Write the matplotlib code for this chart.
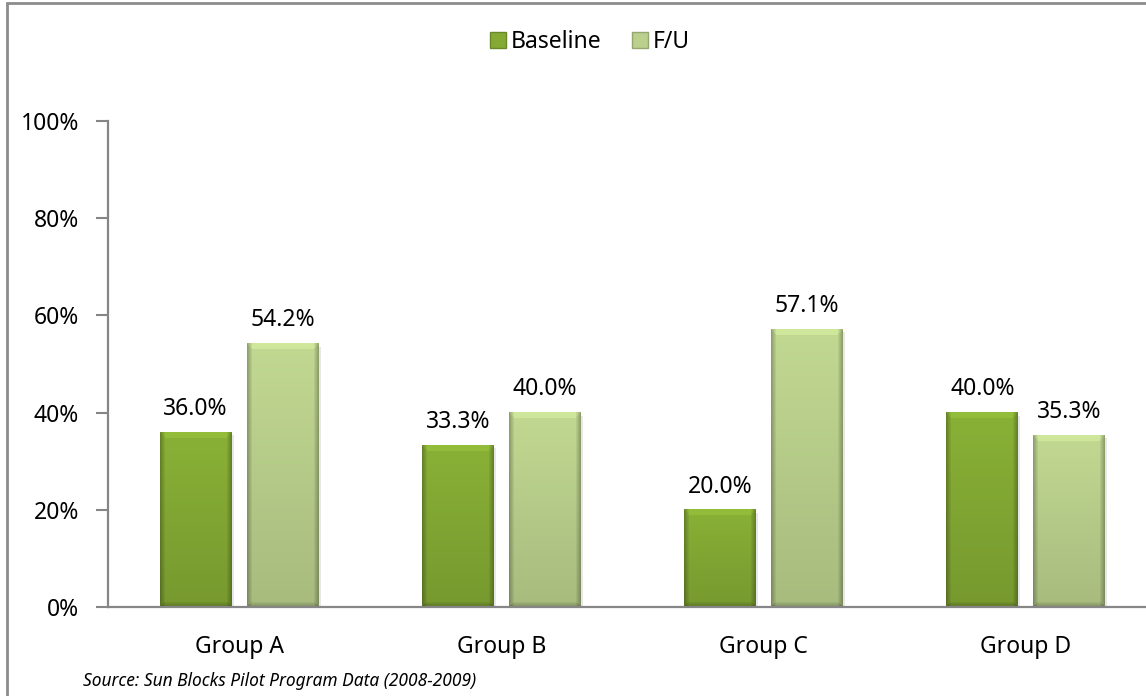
import numpy as np
import matplotlib
matplotlib.use("Agg")
import matplotlib.pyplot as plt
from matplotlib.patches import Rectangle
from matplotlib.lines import Line2D

plt.rcParams['font.family'] = ['Noto Sans', 'DejaVu Sans']

groups = ['Group A', 'Group B', 'Group C', 'Group D']
baseline = [36.0, 33.3, 20.0, 40.0]
followup = [54.2, 40.0, 57.1, 35.3]
series_names = ['Baseline', 'F/U']
source_note = 'Source: Sun Blocks Pilot Program Data (2008-2009)'

base_green = np.array([132, 170, 52]) / 255.0
light_green = np.array([186, 208, 140]) / 255.0
axis_gray = '#868686'

W, H, DPI = 1146, 696, 100
fig = plt.figure(figsize=(W / DPI, H / DPI), dpi=DPI)
fig.patch.set_facecolor('white')

# plot area runs a little past the right edge, like the cropped original
ax = fig.add_axes([108 / W, 89 / H, 1049 / W, 486 / H])
px_per_unit = 486 / 100.0


def bevel_image(base, nrows, ncols):
    # soft vertical gradient with darker sides / bottom and a lit top edge
    py = np.arange(nrows)[:, None] * np.ones((1, ncols))
    px = np.ones((nrows, 1)) * np.arange(ncols)[None, :]
    t = py / max(nrows - 1, 1)
    shade = 1.04 - 0.14 * t
    side = np.minimum(px, ncols - 1 - px)
    shade = np.where(side < 5, shade * (0.74 + 0.05 * side), shade)
    bottom = nrows - 1 - py
    shade = np.where((bottom < 5) & (side >= bottom), shade * (0.78 + 0.04 * bottom), shade)
    top = (py < 6) & (side >= py)
    shade = np.where(top, shade * 1.07, shade)
    rgb = np.clip(base[None, None, :] * shade[:, :, None], 0, 1)
    return rgb


x = np.arange(len(groups))
bw = 0.274
off = 0.166

for vals, col, sign in [(baseline, base_green, -1), (followup, light_green, 1)]:
    bars = ax.bar(x + sign * off, vals, width=bw, color=col, zorder=2, linewidth=0)
    for b, v in zip(bars, vals):
        x0, w, h = b.get_x(), b.get_width(), b.get_height()
        # faint drop shadow
        ax.add_patch(Rectangle((x0 + 0.008, -0.6), w, h, color='#c4c4c4', alpha=0.4,
                               zorder=1.5, linewidth=0))
        nrows = max(int(round(h * px_per_unit)), 2)
        ncols = int(round(w * 1049 / 4))
        img = bevel_image(col, nrows, ncols)
        ax.imshow(img, extent=(x0, x0 + w, 0, h), aspect='auto', zorder=2.5,
                  interpolation='bilinear')
        ax.annotate(f'{v:.1f}%', (x0 + w / 2, h), xytext=(0, 8), textcoords='offset points',
                    ha='center', va='bottom', fontsize=16.5, color='black', zorder=4)

ax.set_xlim(-0.5, len(groups) - 0.5)
ax.set_ylim(0, 100)
ax.set_yticks(np.arange(0, 101, 20))
ax.set_yticklabels([f'{t}%' for t in range(0, 101, 20)])
ax.set_xticks(x)
ax.set_xticklabels(groups)
ax.tick_params(axis='x', length=0, pad=20, labelsize=16.5)
ax.tick_params(axis='y', length=9, width=1.5, color=axis_gray, pad=12, labelsize=16.5)
for s in ['top', 'right']:
    ax.spines[s].set_visible(False)
for s in ['left', 'bottom']:
    ax.spines[s].set_color(axis_gray)
    ax.spines[s].set_linewidth(1.6)
ax.spines['bottom'].set_zorder(3)

handles = [Line2D([], [], marker='s', linestyle='none', markersize=11,
                  markerfacecolor=c, markeredgecolor=c * 0.8)
           for c in (base_green, light_green)]
fig.legend(handles, series_names, loc='center', bbox_to_anchor=(588 / W, 1 - 42 / H),
           ncol=2, frameon=False, fontsize=16.5, handletextpad=0.05, columnspacing=1.2,
           handlelength=1.0)

fig.text(83 / W, 1 - 686 / H, source_note, fontsize=12.5, style='italic',
         ha='left', va='baseline', color='black')

# outer frame (right and bottom sides fall outside the canvas)
fig.patches.append(Rectangle((7 / W, -0.05), 1.05, 1 - 3 / H + 0.05, transform=fig.transFigure,
                             fill=False, edgecolor='#8c8c8c', linewidth=2, zorder=10))

fig.savefig('out.png', dpi=DPI, facecolor='white')
